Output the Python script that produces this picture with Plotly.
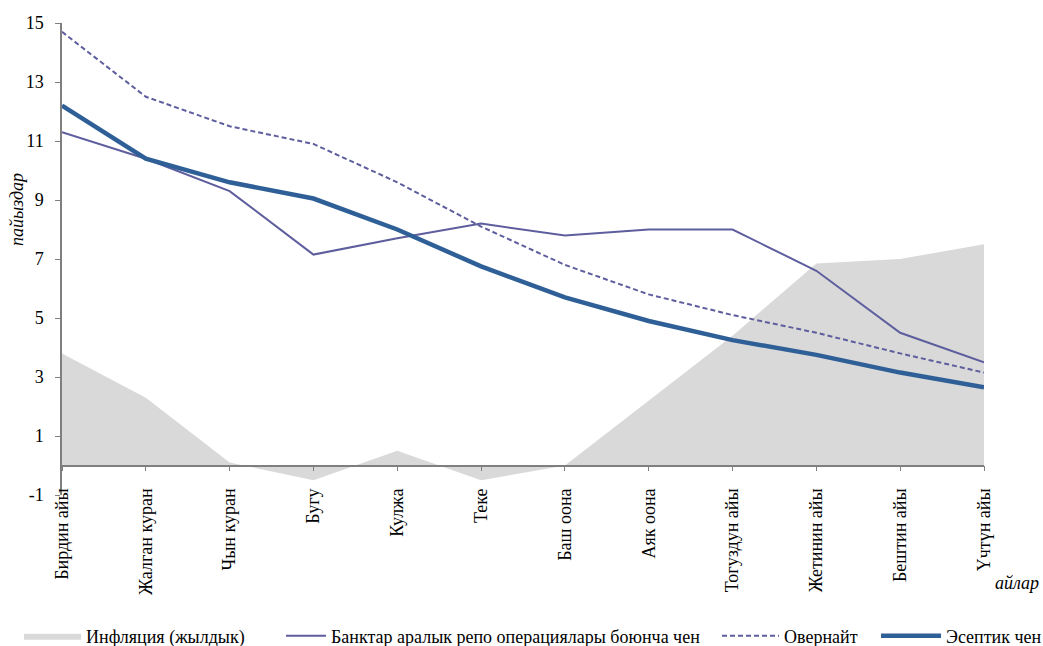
import plotly.graph_objects as go

months = ["Бирдин айы", "Жалган куран", "Чын куран", "Бугу", "Кулжа", "Теке",
          "Баш оона", "Аяк оона", "Тогуздун айы", "Жетинин айы", "Бештин айы", "Үчтүн айы"]
inflation = [3.8, 2.3, 0.1, -0.5, 0.5, -0.5, 0.0, 2.2, 4.4, 6.85, 7.0, 7.5]
repo = [11.3, 10.4, 9.3, 7.15, 7.7, 8.2, 7.8, 8.0, 8.0, 6.6, 4.5, 3.5]
overnight = [14.7, 12.5, 11.5, 10.9, 9.6, 8.1, 6.8, 5.8, 5.1, 4.5, 3.8, 3.15]
policy = [12.2, 10.4, 9.6, 9.05, 8.0, 6.75, 5.7, 4.9, 4.25, 3.75, 3.15, 2.65]
y_ticks = [-1, 1, 3, 5, 7, 9, 11, 13, 15]
y_ticklabels = ["-1", "1", "3", "5", "7", "9", "11", "13", "15"]

FONT = "Liberation Serif"
FS = 18
fig = go.Figure()
fig.add_trace(go.Scatter(x=months, y=inflation, name="Инфляция (жылдык)", mode="lines",
                         fill="tozeroy", fillcolor="#d9d9d9", line=dict(width=0, color="#d9d9d9"),
                         legend="legend"))
fig.add_trace(go.Scatter(x=months, y=repo, name="Банктар аралык репо операциялары боюнча чен",
                         mode="lines", line=dict(color="#5e5e9e", width=2), legend="legend2"))
fig.add_trace(go.Scatter(x=months, y=overnight, name="Овернайт", mode="lines",
                         line=dict(color="#5e5e9e", width=2, dash="5px,3px"), legend="legend3"))
fig.add_trace(go.Scatter(x=months, y=policy, name="Эсептик чен", mode="lines",
                         line=dict(color="#2f5f97", width=4.5), legend="legend4"))

W, H = 1043, 646
L, R, T, B = 62, 59, 23, 151
pw, ph = W - L - R, H - T - B

def px2x(px):
    return (px - L) / pw

def py2y(py):
    return (H - B - py) / ph

def leg(xpx, iw):
    return dict(x=px2x(xpx), y=py2y(636), orientation="h", yanchor="middle", xanchor="left",
                font=dict(family=FONT, size=FS, color="#000"), bgcolor="rgba(0,0,0,0)",
                itemwidth=iw)

fig.update_layout(
    width=W, height=H,
    margin=dict(l=L, r=R, t=T, b=B, autoexpand=False),
    plot_bgcolor="white", paper_bgcolor="white",
    font=dict(family=FONT, size=FS, color="#000"),
    xaxis=dict(type="category", range=[0, 11], anchor="free", position=1 / 16,
               showline=True, linecolor="#7f7f7f", linewidth=1.5, automargin=False,
               ticks="outside", ticklen=5, tickcolor="#7f7f7f", tickangle=-90,
               ticklabelstandoff=10, showgrid=False, zeroline=False,
               tickfont=dict(family=FONT, size=FS, color="#000")),
    yaxis=dict(range=[-1, 15], tickvals=y_ticks, ticktext=y_ticklabels, showline=True,
               linecolor="#7f7f7f", linewidth=1.5, ticks="outside", ticklen=5,
               tickcolor="#7f7f7f", automargin=False, ticklabelstandoff=8,
               showgrid=False, zeroline=False, tickfont=dict(family=FONT, size=FS, color="#000")),
    legend=leg(19, 57),
    legend2=leg(281, 40),
    legend3=leg(717, 57),
    legend4=leg(876, 60),
    showlegend=True,
)
fig.add_annotation(text="<i>пайыздар</i>", xref="paper", yref="paper",
                   x=px2x(17), y=py2y(210), xanchor="center", yanchor="middle",
                   textangle=-90, showarrow=False,
                   font=dict(family=FONT, size=FS, color="#000"))
fig.add_annotation(text="<i>айлар</i>", xref="paper", yref="paper",
                   x=px2x(1017), y=py2y(583), xanchor="center", yanchor="middle",
                   showarrow=False, font=dict(family=FONT, size=FS, color="#000"))
fig.write_html("out.html", config={"displayModeBar": False},
               post_script="document.body.style.margin='0';document.body.style.overflow='hidden';")
